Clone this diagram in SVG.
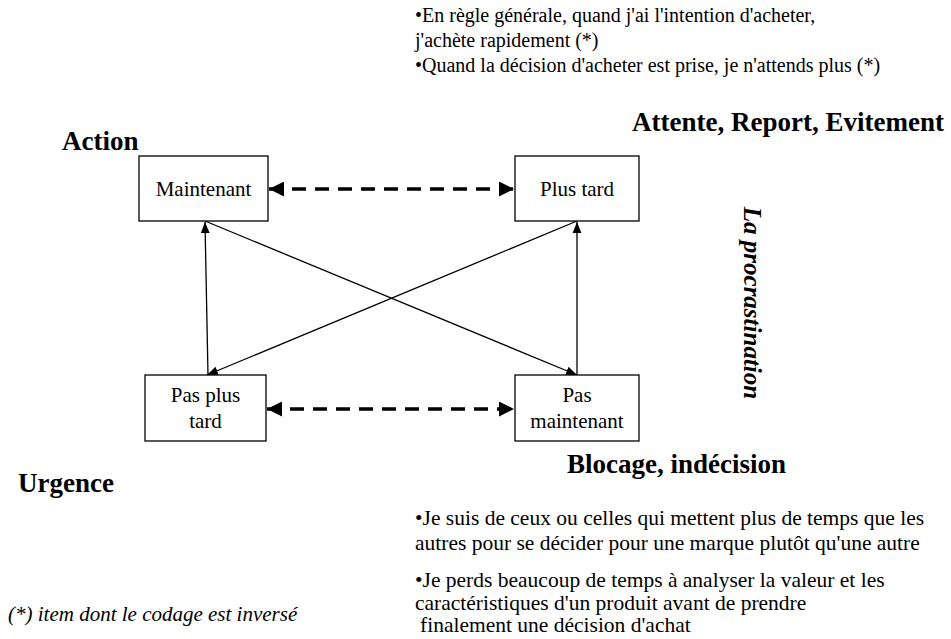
<svg xmlns="http://www.w3.org/2000/svg" width="951" height="639" viewBox="0 0 951 639">
<style>
text{font-family:'Liberation Serif','Times New Roman',serif;fill:#000}
.t{font-size:20px}
.n{font-size:21px}
.p{font-size:21.5px}
.b{font-size:27px;font-weight:bold}
.i{font-size:21px;font-style:italic}
.box{fill:#fff;stroke:#000;stroke-width:1.3}
.dash{stroke:#000;stroke-width:3.5;stroke-dasharray:14 9;fill:none}
.solid{stroke:#000;stroke-width:1.3;fill:none}
</style>
<defs>
<marker id="big" viewBox="0 0 10 10" refX="10" refY="5" markerWidth="15" markerHeight="15" markerUnits="userSpaceOnUse" orient="auto-start-reverse"><path d="M0,0 L10,5 L0,10 z" fill="#000"/></marker>
<marker id="sm" viewBox="0 0 10 10" refX="10" refY="5" markerWidth="11" markerHeight="11" markerUnits="userSpaceOnUse" orient="auto"><path d="M0,1 L10,5 L0,9 z" fill="#000"/></marker>
</defs>
<g id="top-text">
<text class="t" x="415" y="22">•En règle générale, quand j'ai l'intention d'acheter,</text>
<text class="t" x="415" y="47">j'achète rapidement (*)</text>
<text class="t" x="415" y="72">•Quand la décision d'acheter est prise, je n'attends plus (*)</text>
</g>
<g id="labels">
<text class="b" x="62" y="150">Action</text>
<text class="b" x="632" y="131">Attente, Report, Evitement</text>
<text class="b" x="567" y="473">Blocage, indécision</text>
<text class="b" x="18" y="492">Urgence</text>
<text class="b" style="font-style:italic;font-size:25px" text-anchor="middle" transform="translate(744,303) rotate(90)">La procrastination</text>
</g>
<g id="connectors">
<line class="dash" x1="269" y1="189" x2="514" y2="189" marker-start="url(#big)" marker-end="url(#big)"/>
<line class="dash" x1="267" y1="409" x2="514" y2="409" marker-start="url(#big)" marker-end="url(#big)"/>
<line class="solid" x1="208" y1="375" x2="205" y2="222" marker-end="url(#sm)"/>
<line class="solid" x1="205" y1="221" x2="577" y2="375" marker-end="url(#sm)"/>
<line class="solid" x1="577" y1="375" x2="577" y2="222" marker-end="url(#sm)"/>
<line class="solid" x1="577" y1="221" x2="207" y2="375" marker-end="url(#sm)"/>
</g>
<g id="node-maintenant">
<rect class="box" x="139" y="156" width="129" height="65"/>
<text class="n" x="203.5" y="196" text-anchor="middle">Maintenant</text>
</g>
<g id="node-plus-tard">
<rect class="box" x="515" y="156" width="124" height="65"/>
<text class="n" x="577" y="196" text-anchor="middle">Plus tard</text>
</g>
<g id="node-pas-plus-tard">
<rect class="box" x="145" y="375" width="121" height="66"/>
<text class="n" x="205.5" y="402" text-anchor="middle">Pas plus</text>
<text class="n" x="205.5" y="428" text-anchor="middle">tard</text>
</g>
<g id="node-pas-maintenant">
<rect class="box" x="515" y="375" width="124" height="66"/>
<text class="n" x="577" y="402" text-anchor="middle">Pas</text>
<text class="n" x="577" y="428" text-anchor="middle">maintenant</text>
</g>
<g id="bottom-text">
<text class="p" x="415" y="525">•Je suis de ceux ou celles qui mettent plus de temps que les</text>
<text class="p" x="415" y="550">autres pour se décider pour une marque plutôt qu'une autre</text>
<text class="p" x="415" y="587">•Je perds beaucoup de temps à analyser la valeur et les</text>
<text class="p" x="415" y="610">caractéristiques d'un produit avant de prendre</text>
<text class="p" x="420" y="632">finalement une décision d'achat</text>
</g>
<text class="i" x="8" y="621">(*) item dont le codage est inversé</text>
</svg>
